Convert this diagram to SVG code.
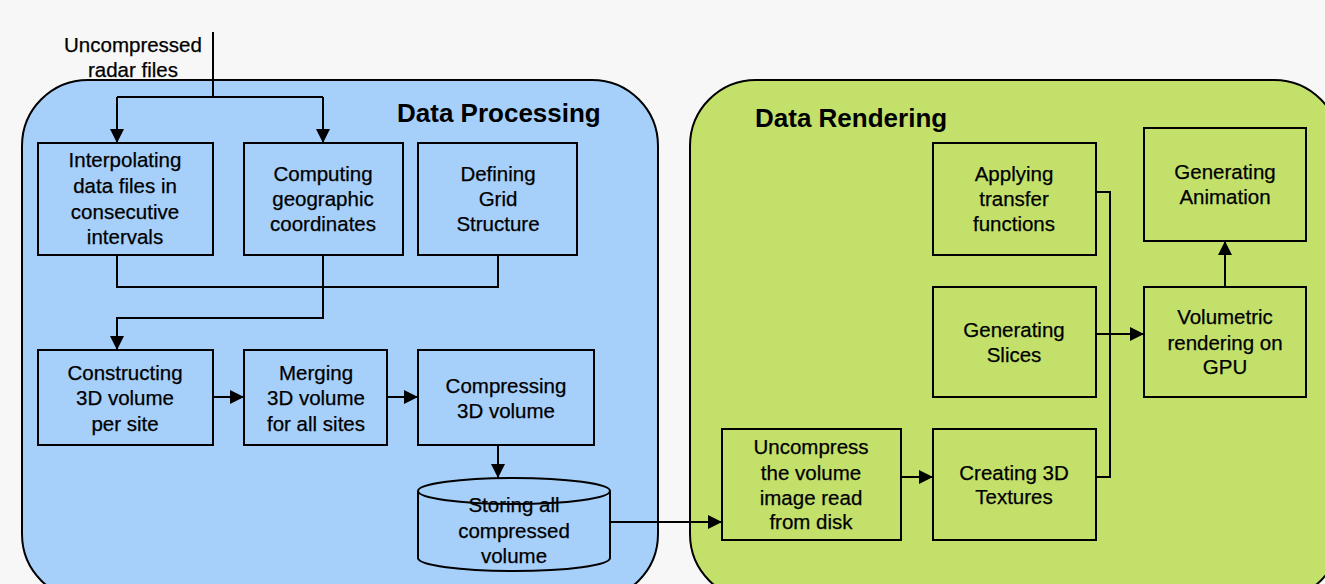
<svg xmlns="http://www.w3.org/2000/svg" width="1325" height="584" viewBox="0 0 1325 584">
<style>
.box{stroke:#000;stroke-width:2}
.blue{fill:#a6cffa}
.green{fill:#c3e06b}
.t{font-family:"Liberation Sans",Arial,sans-serif;font-size:20.5px;text-anchor:middle;fill:#000;stroke:#000;stroke-width:0.25}
.h{font-family:"Liberation Sans",Arial,sans-serif;font-size:26px;font-weight:bold;fill:#000}
.c{fill:none;stroke:#000;stroke-width:2}
</style>
<defs>
<marker id="ah" markerUnits="userSpaceOnUse" markerWidth="15" markerHeight="15" refX="14" refY="7" orient="auto">
<path d="M0,0 L14,7 L0,14 z" fill="#000"/>
</marker>
</defs>
<rect width="1325" height="584" fill="#f7f7f7"/>
<g id="data-processing">
<rect x="22" y="80" width="636" height="520" rx="66" ry="66" class="box blue"/>
<text x="397" y="122" class="h">Data Processing</text>
</g>
<g id="data-rendering">
<rect x="690" y="80" width="650" height="520" rx="66" ry="66" class="box green"/>
<text x="755" y="127" class="h">Data Rendering</text>
</g>
<g id="input-label">
<text class="t" x="133" y="52">Uncompressed</text>
<text class="t" x="133" y="77">radar files</text>
</g>
<g id="connectors">
<path class="c" d="M213,32 V97"/>
<path class="c" d="M117,97 H323"/>
<path class="c" d="M117,97 V143" marker-end="url(#ah)"/>
<path class="c" d="M323,97 V143" marker-end="url(#ah)"/>
<path class="c" d="M117,255 V287 H498 V255"/>
<path class="c" d="M323,255 V318 H117 V350" marker-end="url(#ah)"/>
<path class="c" d="M213,397 H244" marker-end="url(#ah)"/>
<path class="c" d="M387,397 H418" marker-end="url(#ah)"/>
<path class="c" d="M498,445 V478" marker-end="url(#ah)"/>
<path class="c" d="M610,522 H722" marker-end="url(#ah)"/>
<path class="c" d="M901,477 H933" marker-end="url(#ah)"/>
<path class="c" d="M1096,192 H1110 V477 H1096"/>
<path class="c" d="M1096,334 H1144" marker-end="url(#ah)"/>
<path class="c" d="M1225,287 V241" marker-end="url(#ah)"/>
</g>
<g id="interpolating">
<rect x="38" y="143" width="175" height="112" class="box blue"/>
<text class="t" x="125" y="167">Interpolating</text>
<text class="t" x="125" y="193">data files in</text>
<text class="t" x="125" y="219">consecutive</text>
<text class="t" x="125" y="244">intervals</text>
</g>
<g id="computing">
<rect x="244" y="143" width="159" height="112" class="box blue"/>
<text class="t" x="323" y="181">Computing</text>
<text class="t" x="323" y="206">geographic</text>
<text class="t" x="323" y="231">coordinates</text>
</g>
<g id="defining">
<rect x="418" y="143" width="159" height="112" class="box blue"/>
<text class="t" x="498" y="181">Defining</text>
<text class="t" x="498" y="206">Grid</text>
<text class="t" x="498" y="231">Structure</text>
</g>
<g id="constructing">
<rect x="38" y="350" width="175" height="95" class="box blue"/>
<text class="t" x="125" y="380">Constructing</text>
<text class="t" x="125" y="405">3D volume</text>
<text class="t" x="125" y="431">per site</text>
</g>
<g id="merging">
<rect x="244" y="350" width="143" height="95" class="box blue"/>
<text class="t" x="316" y="380">Merging</text>
<text class="t" x="316" y="405">3D volume</text>
<text class="t" x="316" y="431">for all sites</text>
</g>
<g id="compressing">
<rect x="418" y="350" width="176" height="95" class="box blue"/>
<text class="t" x="506" y="393">Compressing</text>
<text class="t" x="506" y="418">3D volume</text>
</g>
<g id="storing">
<path class="box blue" d="M418,491 A96,13 0 0 1 610,491 L610,558 A96,13 0 0 1 418,558 Z"/>
<text class="t" x="514" y="512">Storing all</text>
<text class="t" x="514" y="538">compressed</text>
<text class="t" x="514" y="563">volume</text>
<path class="c" d="M418,491 A96,13 0 0 0 610,491"/>
</g>
<g id="uncompress">
<rect x="722" y="429" width="179" height="111" class="box green"/>
<text class="t" x="811" y="454">Uncompress</text>
<text class="t" x="811" y="480">the volume</text>
<text class="t" x="811" y="505">image read</text>
<text class="t" x="811" y="529">from disk</text>
</g>
<g id="creating">
<rect x="933" y="429" width="163" height="111" class="box green"/>
<text class="t" x="1014" y="480">Creating 3D</text>
<text class="t" x="1014" y="504">Textures</text>
</g>
<g id="slices">
<rect x="933" y="287" width="163" height="110" class="box green"/>
<text class="t" x="1014" y="337">Generating</text>
<text class="t" x="1014" y="362">Slices</text>
</g>
<g id="applying">
<rect x="933" y="143" width="163" height="112" class="box green"/>
<text class="t" x="1014" y="181">Applying</text>
<text class="t" x="1014" y="206">transfer</text>
<text class="t" x="1014" y="231">functions</text>
</g>
<g id="animation">
<rect x="1144" y="128" width="162" height="113" class="box green"/>
<text class="t" x="1225" y="179">Generating</text>
<text class="t" x="1225" y="204">Animation</text>
</g>
<g id="volumetric">
<rect x="1144" y="287" width="162" height="110" class="box green"/>
<text class="t" x="1225" y="324">Volumetric</text>
<text class="t" x="1225" y="350">rendering on</text>
<text class="t" x="1225" y="374">GPU</text>
</g>
</svg>
